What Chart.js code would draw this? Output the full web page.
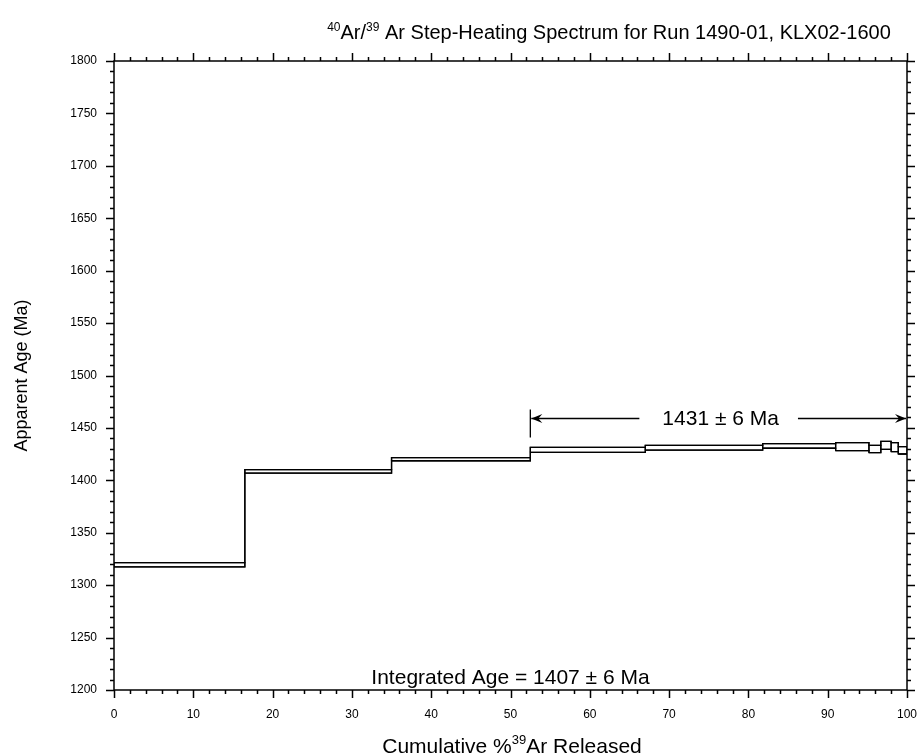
<!DOCTYPE html>
<html><head><meta charset="utf-8">
<script src="https://cdn.jsdelivr.net/npm/chart.js@4.4.1/dist/chart.umd.min.js"></script>
<style>html,body{margin:0;padding:0;background:#fff;} canvas{display:block;}</style>
</head><body>
<canvas id="c" width="921" height="756"></canvas>
<script>
// ---- data ----
const stepStart = [0, 16.5, 35.0, 52.5, 67.0, 81.8, 91.0, 95.2, 96.7, 98.0, 98.9];
const stepEnd   = [16.5, 35.0, 52.5, 67.0, 81.8, 91.0, 95.2, 96.7, 98.0, 98.9, 100];
const ageLow    = [1317.5, 1406.8, 1418.7, 1426.7, 1428.9, 1430.6, 1428.3, 1426.4, 1429.6, 1427.3, 1425.1];
const ageHigh   = [1321.5, 1410.3, 1421.6, 1431.5, 1433.4, 1435.0, 1435.9, 1433.4, 1437.2, 1435.9, 1432.1];
const xTickValues = [0, 10, 20, 30, 40, 50, 60, 70, 80, 90, 100];
const yTickValues = [1200, 1250, 1300, 1350, 1400, 1450, 1500, 1550, 1600, 1650, 1700, 1750, 1800];
const xMinorStep = 2, yMinorStep = 10;
const plateauStart = 52.5, plateauEnd = 100;
const plateauLabel = '1431 \u00b1 6 Ma';
const integratedLabel = 'Integrated Age = 1407 \u00b1 6 Ma';
const titleParts = [{t:'40', sup:true}, {t:'Ar/'}, {t:'39', sup:true}, {t:' Ar Step-Heating Spectrum for Run 1490-01, KLX02-1600'}];
const xTitleParts = [{t:'Cumulative %'}, {t:'39', sup:true}, {t:'Ar Released'}];
const yTitle = 'Apparent Age (Ma)';

const FONT = '"Liberation Sans", Arial, Helvetica, sans-serif';
Chart.defaults.font.family = FONT;
Chart.defaults.color = '#000';

const LINE = {showLine:true, borderColor:'#000', borderWidth:1.3, pointRadius:0, pointHoverRadius:0, fill:false, tension:0};
const datasets = stepStart.map((s, i) => Object.assign({
  data: [{x:s, y:ageLow[i]}, {x:s, y:ageHigh[i]}, {x:stepEnd[i], y:ageHigh[i]}, {x:stepEnd[i], y:ageLow[i]}, {x:s, y:ageLow[i]}]
}, LINE));
datasets.push(Object.assign({stepped:'before', data: stepStart.map((s,i)=>({x:s, y:ageHigh[i]})).concat([{x:stepEnd[stepEnd.length-1], y:ageHigh[ageHigh.length-1]}])}, LINE));
datasets.push(Object.assign({stepped:'before', data: stepStart.map((s,i)=>({x:s, y:ageLow[i]})).concat([{x:stepEnd[stepEnd.length-1], y:ageLow[ageLow.length-1]}])}, LINE));

function drawRich(ctx, parts, size, cx, baseline) {
  const supSize = Math.round(size * 0.62);
  let w = 0;
  parts.forEach(p => { ctx.font = (p.sup ? supSize : size) + 'px ' + FONT; p.w = ctx.measureText(p.t).width; w += p.w; });
  let x = cx - w / 2;
  ctx.textAlign = 'left'; ctx.textBaseline = 'alphabetic';
  parts.forEach(p => {
    ctx.font = (p.sup ? supSize : size) + 'px ' + FONT;
    ctx.fillText(p.t, x, p.sup ? baseline - size * 0.42 : baseline);
    x += p.w;
  });
}

function arrowHead(ctx, x, y, dir) {
  ctx.beginPath();
  ctx.moveTo(x, y);
  ctx.lineTo(x - dir * 11, y - 4.5);
  ctx.lineTo(x - dir * 7, y);
  ctx.lineTo(x - dir * 11, y + 4.5);
  ctx.closePath();
  ctx.fill();
}

const decor = {
  id: 'decor',
  afterDraw(chart) {
    const {ctx, chartArea: a, scales: {x, y}} = chart;
    ctx.save();
    ctx.strokeStyle = '#000'; ctx.fillStyle = '#000'; ctx.lineWidth = 1.5;
    ctx.strokeRect(a.left, a.top, a.right - a.left, a.bottom - a.top);
    ctx.beginPath();
    const xMin = xTickValues[0], xMax = xTickValues[xTickValues.length - 1];
    for (let v = xMin; v <= xMax + 1e-9; v += xMinorStep) {
      const px = Math.round(x.getPixelForValue(v)) + 0.5;
      const L = xTickValues.includes(Math.round(v)) ? 8 : 4;
      ctx.moveTo(px, a.bottom); ctx.lineTo(px, a.bottom + L);
      ctx.moveTo(px, a.top); ctx.lineTo(px, a.top - L);
    }
    const yMin = yTickValues[0], yMax = yTickValues[yTickValues.length - 1];
    for (let v = yMin; v <= yMax + 1e-9; v += yMinorStep) {
      const py = Math.round(y.getPixelForValue(v)) + 0.5;
      const L = yTickValues.includes(Math.round(v)) ? 8 : 4;
      ctx.moveTo(a.left, py); ctx.lineTo(a.left - L, py);
      ctx.moveTo(a.right, py); ctx.lineTo(a.right + L, py);
    }
    ctx.stroke();

    // plateau annotation
    let maxHi = -Infinity;
    stepStart.forEach((s, i) => { if (s >= plateauStart - 1e-9) maxHi = Math.max(maxHi, ageHigh[i]); });
    const ay = Math.round(y.getPixelForValue(maxHi)) - 23 + 0.5;
    const x0 = x.getPixelForValue(plateauStart), x1 = x.getPixelForValue(plateauEnd);
    ctx.lineWidth = 1.3;
    ctx.beginPath();
    ctx.moveTo(x0, ay - 9); ctx.lineTo(x0, ay + 19);
    ctx.font = '21px ' + FONT;
    const tw = ctx.measureText(plateauLabel).width;
    const cx = (x0 + x1) / 2 + 2;
    ctx.moveTo(x0 + 1, ay); ctx.lineTo(cx - tw / 2 - 23, ay);
    ctx.moveTo(cx + tw / 2 + 19, ay); ctx.lineTo(x1 - 1, ay);
    ctx.stroke();
    arrowHead(ctx, x0 + 1, ay, -1);
    arrowHead(ctx, x1 - 1, ay, 1);
    ctx.textAlign = 'center'; ctx.textBaseline = 'middle';
    ctx.fillText(plateauLabel, cx, ay + 1);

    // integrated age
    ctx.font = '21px ' + FONT;
    ctx.textAlign = 'center'; ctx.textBaseline = 'alphabetic';
    ctx.fillText(integratedLabel, (a.left + a.right) / 2, a.bottom - 6);

    // titles with superscripts
    drawRich(ctx, titleParts, 20, 609, 39);
    drawRich(ctx, xTitleParts, 21, 512, 753);
    ctx.restore();
  }
};

new Chart(document.getElementById('c'), {
  type: 'scatter',
  data: {datasets},
  options: {
    responsive: false, animation: false, devicePixelRatio: 1,
    layout: {padding: {top: 61, right: 14, left: 0, bottom: 0}},
    plugins: {legend: {display: false}, tooltip: {enabled: false}, title: {display: false}},
    events: [],
    scales: {
      x: {
        type: 'linear', min: xTickValues[0], max: xTickValues[xTickValues.length - 1],
        afterBuildTicks: s => { s.ticks = xTickValues.map(v => ({value: v})); },
        afterFit: s => { s.height = 66; s.paddingLeft = 0; s.paddingRight = 0; },
        grid: {display: false, drawTicks: false},
        border: {display: false},
        ticks: {padding: 17, font: {size: 12}, color: '#000', maxRotation: 0, autoSkip: false, callback: v => String(v)}
      },
      y: {
        type: 'linear', min: yTickValues[0], max: yTickValues[yTickValues.length - 1],
        afterBuildTicks: s => { s.ticks = yTickValues.map(v => ({value: v})); },
        afterFit: s => { s.width = 114; s.paddingTop = 0; s.paddingBottom = 0; },
        grid: {display: false, drawTicks: false},
        border: {display: false},
        ticks: {padding: 17, font: {size: 12}, color: '#000', autoSkip: false, callback: v => String(v)},
        title: {display: true, text: yTitle, font: {size: 18}, color: '#000', padding: {top: 11}}
      }
    }
  },
  plugins: [decor]
});
</script>
</body></html>
